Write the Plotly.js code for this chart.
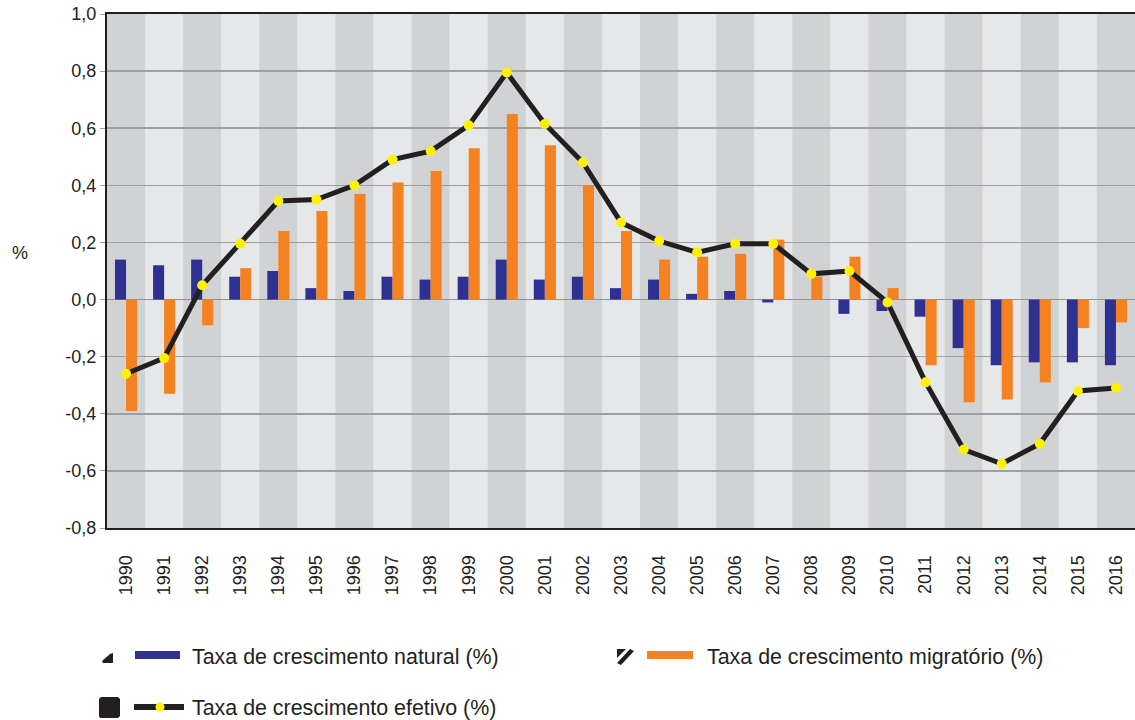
<!DOCTYPE html>
<html>
<head>
<meta charset="utf-8">
<script src="https://cdn.plot.ly/plotly-3.0.1.min.js"></script>
<style>html,body{margin:0;padding:0;background:#fff;}#chart{width:1135px;height:720px;}</style>
</head>
<body>
<div id="chart"></div>
<script>
const years = ['1990','1991','1992','1993','1994','1995','1996','1997','1998','1999','2000','2001','2002','2003','2004','2005','2006','2007','2008','2009','2010','2011','2012','2013','2014','2015','2016'];
const natural = [0.14,0.12,0.14,0.08,0.10,0.04,0.03,0.08,0.07,0.08,0.14,0.07,0.08,0.04,0.07,0.02,0.03,-0.01,0.00,-0.05,-0.04,-0.06,-0.17,-0.23,-0.22,-0.22,-0.23];
const migratorio = [-0.39,-0.33,-0.09,0.11,0.24,0.31,0.37,0.41,0.45,0.53,0.65,0.54,0.40,0.24,0.14,0.15,0.16,0.21,0.08,0.15,0.04,-0.23,-0.36,-0.35,-0.29,-0.10,-0.08];
const efetivo = [-0.26,-0.205,0.05,0.195,0.345,0.35,0.40,0.49,0.52,0.61,0.795,0.615,0.48,0.27,0.205,0.165,0.195,0.195,0.09,0.10,-0.01,-0.29,-0.525,-0.575,-0.505,-0.32,-0.31];
const yTicks = [-0.8,-0.6,-0.4,-0.2,0,0.2,0.4,0.6,0.8,1.0];
const yTickText = yTicks.map(v => v.toFixed(1).replace('.', ','));
const names = ['Taxa de crescimento natural (%)','Taxa de crescimento migratório (%)','Taxa de crescimento efetivo (%)'];

const BLUE = '#2e3192', ORANGE = '#f58220', BLACK = '#231f20', YELLOW = '#fff200';
const FONT = 'Liberation Sans, Arial, sans-serif';

const traces = [
  {type:'bar', x:years, y:natural, marker:{color:BLUE}, name:names[0]},
  {type:'bar', x:years, y:migratorio, marker:{color:ORANGE}, name:names[1]},
  {type:'scatter', mode:'lines+markers', x:years, y:efetivo, line:{color:BLACK, width:5},
   marker:{color:YELLOW, size:10}, name:names[2]}
];

const PL = 107, PT = 14, PW = 1028, PH = 514;
function px(x){return (x-PL)/PW;}
function py(y){return (PT+PH-y)/PH;}

const shapes = years.map((y,i)=>({type:'rect', xref:'x', yref:'paper', x0:i-0.5, x1:i+0.5, y0:0, y1:1,
  fillcolor: i%2 ? '#e6e7e8' : '#d1d2d4', line:{width:0}, layer:'below'}));

// custom legend (positions in page pixels)
function P(pts){return 'M ' + pts.map(p => px(p[0]) + ' ' + py(p[1])).join(' L ') + ' Z';}
shapes.push({type:'path', xref:'paper', yref:'paper', fillcolor:BLACK, line:{width:0},
  path:P([[100,718],[99,716],[99,699],[101,697],[118,697],[120,699],[120,716],[118,718]])});
shapes.push({type:'path', xref:'paper', yref:'paper', fillcolor:BLACK, line:{width:0},
  path:P([[103,663],[102,661],[110,654],[113,653],[113,663]])});
shapes.push({type:'path', xref:'paper', yref:'paper', fillcolor:BLACK, line:{width:0},
  path:P([[617,649],[626,649],[617,658]])});
shapes.push({type:'path', xref:'paper', yref:'paper', fillcolor:BLACK, line:{width:0},
  path:P([[630,649],[634,651],[621,665],[617,663]])});
shapes.push({type:'line', xref:'paper', yref:'paper', x0:px(135), x1:px(180), y0:py(655), y1:py(655), line:{color:BLUE, width:8}});
shapes.push({type:'line', xref:'paper', yref:'paper', x0:px(647), x1:px(693), y0:py(655), y1:py(655), line:{color:ORANGE, width:8}});
shapes.push({type:'line', xref:'paper', yref:'paper', x0:px(134), x1:px(184), y0:py(707), y1:py(707), line:{color:BLACK, width:6}});
shapes.push({type:'circle', xref:'paper', yref:'paper', x0:px(155.5), x1:px(164.5), y0:py(711.5), y1:py(702.5), fillcolor:YELLOW, line:{width:0}});

const legendText = [
  {text:names[0], x:190, y:657},
  {text:names[1], x:705, y:657},
  {text:names[2], x:190, y:708}
];

const annotations = [{text:'%', xref:'paper', yref:'paper', x:px(20), y:py(253), showarrow:false, font:{size:18}, xanchor:'center', yanchor:'middle'}]
  .concat(legendText.map(t => ({text:t.text, xref:'paper', yref:'paper', x:px(t.x), y:py(t.y), showarrow:false,
    xanchor:'left', yanchor:'middle', font:{size:21.4, color:BLACK}})));

const layout = {
  width:1135, height:720,
  margin:{l:PL, r:0, t:PT, b:720-PT-PH, pad:0},
  paper_bgcolor:'#ffffff', plot_bgcolor:'#e6e7e8',
  font:{family:FONT, color:BLACK, size:18},
  showlegend:false,
  barmode:'group', bargap:0.42, bargroupgap:0,
  xaxis:{type:'category', range:[-0.5, years.length-0.5], tickangle:-90, showgrid:false,
    showline:true, linecolor:BLACK, linewidth:2, mirror:true, ticks:'', ticklabelstandoff:18,
    tickfont:{size:18}, zeroline:false, fixedrange:true},
  yaxis:{range:[-0.8,1.0], tickvals:yTicks, ticktext:yTickText, showgrid:true, gridcolor:'#9d9fa2', gridwidth:1.5,
    zeroline:true, zerolinecolor:'#8f9194', zerolinewidth:1.5, showline:true, linecolor:BLACK, linewidth:2, mirror:false,
    ticks:'outside', ticklen:5, tickcolor:'#9d9fa2', tickfont:{size:18}, fixedrange:true},
  shapes:shapes,
  annotations:annotations
};

Plotly.newPlot('chart', traces, layout, {displayModeBar:false, staticPlot:true});
</script>
</body>
</html>
